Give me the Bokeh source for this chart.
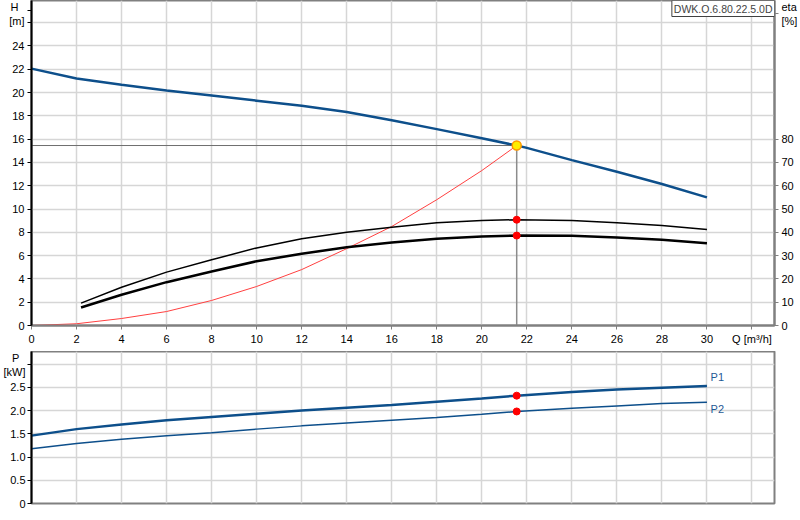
from bokeh.plotting import figure
from bokeh.layouts import column
from bokeh.models import Range1d, LinearAxis, FixedTicker, Label
from bokeh.embed import file_html
from bokeh.resources import INLINE

# === values ===
# pump head curve H(Q)
q_h = [0, 2, 4, 6, 8, 10, 12, 14, 16, 18, 20, 21.55, 22, 24, 26, 28, 30]
h = [22.05, 21.2, 20.66, 20.17, 19.74, 19.3, 18.86, 18.32, 17.62, 16.86, 16.07,
     15.45, 15.25, 14.2, 13.2, 12.15, 11.0]

# system curve (red)
q_sys = [0, 2, 4, 6, 8, 10, 12, 14, 16, 18, 20, 21.55]
h_sys = [0, 0.15, 0.6, 1.2, 2.15, 3.35, 4.8, 6.6, 8.5, 10.8, 13.3, 15.45]

# efficiencies [%]
q_eta = [2.2, 4, 6, 8, 10, 12, 14, 16, 18, 20, 21.55, 24, 26, 28, 30]
eta_pump = [9.6, 16.4, 22.9, 28.2, 33.3, 37.2, 40.0, 42.2, 44.1, 45.1, 45.4,
            45.1, 44.1, 42.9, 41.2]
eta_total = [7.7, 13.2, 18.6, 23.2, 27.6, 30.8, 33.6, 35.6, 37.2, 38.2, 38.6,
             38.5, 37.8, 36.8, 35.3]

# power [kW]
q_p = [0, 2, 4, 6, 8, 10, 12, 14, 16, 18, 20, 21.55, 24, 26, 28, 30]
p1 = [1.46, 1.60, 1.70, 1.79, 1.86, 1.93, 2.0, 2.06, 2.12, 2.19, 2.26, 2.32,
      2.40, 2.45, 2.49, 2.53]
p2 = [1.18, 1.29, 1.38, 1.46, 1.52, 1.60, 1.67, 1.73, 1.79, 1.85, 1.92, 1.98,
      2.05, 2.10, 2.15, 2.18]

# duty point
q_duty = 21.55
h_duty = 15.45
eta_duty = [45.4, 38.6]
p_duty = [2.32, 1.98]

# ticks and tick labels (unit captions sit on the axes like in the original)
q_ticks = [0, 2, 4, 6, 8, 10, 12, 14, 16, 18, 20, 22, 24, 26, 28, 30, 32]
q_labels = {32: "Q [m³/h]"}
h_grid = [0, 2, 4, 6, 8, 10, 12, 14, 16, 18, 20, 22, 24, 26]
h_ticks = h_grid + [27.0]
h_labels = {26: "", 27.0: "H\u00a0\u00a0\n[m]"}
eta_ticks = [0, 10, 20, 30, 40, 50, 60, 70, 80, 134]
eta_labels = {134: "eta\n[%]"}
p_ticks = [0, 0.5, 1, 1.5, 2, 2.5, 3]
p_labels = {0: "0", 0.5: "0.5", 1: "1.0", 1.5: "1.5", 2: "2.0", 2.5: "2.5",
            3: "P\u00a0\u00a0\n[kW]"}

FONT = "Liberation Sans"
BLUE = "#0d4f8b"
GRID = "#d6d6d6"
FRAME = "#808080"


def style_axis(ax, line_color="black", standoff=3):
    ax.axis_line_color = line_color
    ax.axis_line_width = 2
    ax.major_tick_line_color = line_color
    ax.major_tick_in = 0
    ax.major_tick_out = 4
    ax.minor_tick_line_color = None
    ax.major_label_text_font = FONT
    ax.major_label_text_font_size = "11px"
    ax.major_label_text_color = "black"
    ax.major_label_standoff = standoff


# ---------- H / eta chart ----------
p = figure(width=800, height=351, x_range=Range1d(0, 33), y_range=Range1d(0, 27.9),
           output_backend="svg", toolbar_location=None,
           min_border_left=29, min_border_right=24, min_border_top=0, min_border_bottom=26)
p.extra_y_ranges = {"eta": Range1d(0, 139.5)}

p.xaxis.ticker = FixedTicker(ticks=q_ticks)
p.xaxis.major_label_overrides = q_labels
style_axis(p.xaxis[0], line_color=FRAME)
p.yaxis.ticker = FixedTicker(ticks=h_ticks)
p.yaxis.major_label_overrides = h_labels
style_axis(p.yaxis[0])

eta_axis = LinearAxis(y_range_name="eta", ticker=FixedTicker(ticks=eta_ticks),
                      major_label_overrides=eta_labels)
style_axis(eta_axis, line_color=FRAME)
p.add_layout(eta_axis, "right")

p.xgrid.ticker = FixedTicker(ticks=q_ticks)
p.ygrid.ticker = FixedTicker(ticks=h_grid)
p.grid.grid_line_color = GRID
p.grid.grid_line_width = 1.5
p.outline_line_color = FRAME
p.outline_line_width = 2

p.line(q_sys, h_sys, color="#ff4040", line_width=1)
p.line(q_eta, eta_pump, y_range_name="eta", color="black", line_width=1.5)
p.line(q_eta, eta_total, y_range_name="eta", color="black", line_width=2.5)
p.line([0, q_duty], [h_duty, h_duty], color="#6e6e6e", line_width=1)
p.line([q_duty, q_duty], [0, h_duty], color="#8c8c8c", line_width=1.5)
p.line(q_h, h, color=BLUE, line_width=2.5)
p.scatter([q_duty, q_duty], eta_duty, y_range_name="eta", size=7, color="#ff0000")
p.scatter([q_duty], [h_duty], size=9, fill_color="#ffee00", line_color="#ff9900",
          line_width=1.5)

p.add_layout(Label(x=33, y=27.9, text="DWK.O.6.80.22.5.0D", text_align="right",
                   text_baseline="top", text_font=FONT, text_font_size="10.5px",
                   border_line_color="#404040", background_fill_color="white",
                   padding=2))

# ---------- Power chart ----------
pb = figure(width=800, height=169, x_range=p.x_range, y_range=Range1d(0, 3.27),
            output_backend="svg", toolbar_location=None, x_axis_location=None,
            min_border_left=29, min_border_right=24, min_border_top=0, min_border_bottom=17)
pb.yaxis.ticker = FixedTicker(ticks=p_ticks)
pb.yaxis.major_label_overrides = p_labels
style_axis(pb.yaxis[0], standoff=2)
pb.xgrid.ticker = FixedTicker(ticks=q_ticks)
pb.ygrid.ticker = FixedTicker(ticks=p_ticks)
pb.grid.grid_line_color = GRID
pb.grid.grid_line_width = 1.5
pb.outline_line_color = FRAME
pb.outline_line_width = 2

pb.line(q_p, p1, color=BLUE, line_width=2.5)
pb.line(q_p, p2, color=BLUE, line_width=1.5)
pb.scatter([q_duty, q_duty], p_duty, size=7, color="#ff0000")

for txt, yv in [("P1", 2.72), ("P2", 2.03)]:
    pb.add_layout(Label(x=30.46, y=yv, text=txt, text_align="center",
                        text_baseline="middle", text_font=FONT,
                        text_font_size="11px", text_color="#1f5a96"))

layout = column(p, pb, spacing=0)
open("out.html", "w").write(file_html(layout, INLINE))
